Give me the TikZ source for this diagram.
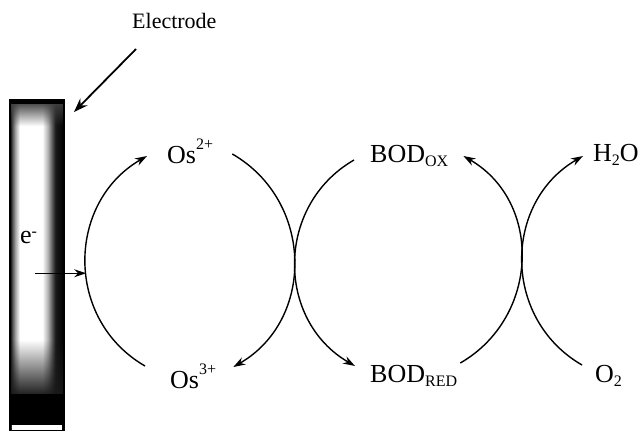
\documentclass[tikz,border=0pt]{standalone}
\usepackage{fontspec}
\setmainfont{Liberation Serif}
\usetikzlibrary{arrows.meta,fadings}
\tikzfading[name=fadedown, top color=transparent!0, bottom color=transparent!100]
\tikzfading[name=fadeup, top color=transparent!100, bottom color=transparent!0]
\pgfdeclarehorizontalshading{electrodeshade}{100bp}{color(0bp)=(black); color(25bp)=(black);
  color(27bp)=(black!70); color(30bp)=(black!35); color(34bp)=(white); color(55bp)=(white);
  color(60bp)=(black!30); color(64bp)=(black!65); color(67bp)=(black!90); color(75bp)=(black);
  color(100bp)=(black)}
\newcommand{\lsup}[2][14pt]{\raisebox{#1}{\fontsize{16}{16}\selectfont #2}}
\newcommand{\lsub}[1]{\raisebox{-4pt}{\fontsize{16}{16}\selectfont #1}}

\begin{document}
\begin{tikzpicture}[x=1pt,y=1pt,
  lbl/.style={font=\fontsize{26}{30}\selectfont, inner sep=0pt, anchor=base west},
  cyc/.style={line width=1.4pt, looseness=1.13},
  tip/.style={-{Stealth[length=12pt,width=8pt]}},
  ptr/.style={line width=1.8pt, -{Stealth[length=14pt,width=10pt]}}]
  \useasboundingbox (0,0) rectangle (644,432);
  % electrode
  \shade[shading=electrodeshade] (10,1.5) rectangle (64,332);
  \fill[black!75,path fading=fadedown] (10,306) rectangle (64,330);
  \fill[black] (10,328) rectangle (64,332);
  \fill[black!90,path fading=fadeup] (10,36) rectangle (64,92);
  \fill[black] (10,7.5) rectangle (64,38);
  \fill[white] (12,2.5) rectangle (62,7.5);
  \draw[line width=1.2pt] (10,1.5) rectangle (64,332);
  \coordinate (etop) at (64,332);

  \node[lbl,font=\fontsize{22}{26}\selectfont] (elabel) at (132,403) {Electrode};
  \node[lbl] (em) at (20,189) {e\lsup[7pt]{-}};
  \node[lbl] (os2) at (167,269) {Os\lsup{2+}};
  \node[lbl] (os3) at (170,44) {Os\lsup{3+}};
  \node[lbl] (bodox) at (370,270) {BOD\lsub{OX}};
  \node[lbl] (bodred) at (370,50) {BOD\lsub{RED}};
  \node[lbl] (h2o) at (593,271) {H\lsub{2}O};
  \node[lbl] (o2) at (595,50) {O\lsub{2}};

  % cycles
  \draw[cyc,tip] ([shift={(-25,22)}]os3.base west) to[out=150,in=210]
    coordinate[pos=0.45] (c1w) ([shift={(-20,7)}]os2.base west);
  \draw[cyc,tip] ([shift={(19,9)}]os2.base east) to[out=-30,in=30] ([shift={(17,21)}]os3.base east);
  \draw[cyc,tip] ([shift={(-16,2)}]bodox.base west) to[out=210,in=150] ([shift={(-15,16)}]bodred.base west);
  \draw[cyc,tip] ([shift={(3,19)}]bodred.base east) to[out=30,in=-30] ([shift={(15,6)}]bodox.base east);
  \draw[cyc,tip] ([shift={(-13,17)}]o2.base west) to[out=150,in=210] ([shift={(-10,5)}]h2o.base west);

  \coordinate (estart) at ([xshift=15pt]em.base west);
  \draw[cyc,tip] (estart |- c1w) -- (c1w);
  \draw[ptr] ([shift={(4,-20)}]elabel.base west) -- ([shift={(10,-12)}]etop);
\end{tikzpicture}
\end{document}
